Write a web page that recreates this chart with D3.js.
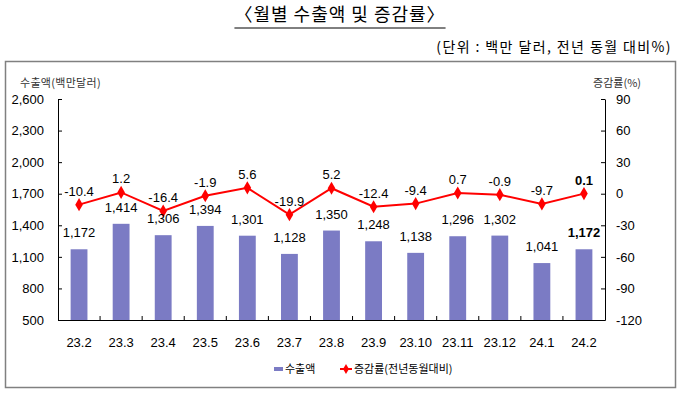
<!DOCTYPE html>
<html><head><meta charset="utf-8">
<script src="https://cdn.jsdelivr.net/npm/d3@7"></script>
<style>body{margin:0;background:#fff}svg{display:block}</style>
</head><body>
<svg id="c" width="680" height="394"></svg>
<script>
const categories = ["23.2","23.3","23.4","23.5","23.6","23.7","23.8","23.9","23.10","23.11","23.12","24.1","24.2"];
const exports = [1172,1414,1306,1394,1301,1128,1350,1248,1138,1296,1302,1041,1172];
const rates = [-10.4,1.2,-16.4,-1.9,5.6,-19.9,5.2,-12.4,-9.4,0.7,-0.9,-9.7,0.1];
const leftTicks = [500,800,1100,1400,1700,2000,2300,2600];
const rightTicks = [-120,-90,-60,-30,0,30,60,90];

const svg = d3.select("#c");
const KR = "'Noto Sans CJK KR', 'Noto Sans', sans-serif";
const NUM = "'Liberation Sans', Arial, sans-serif";
const L = 58, R = 605, T = 99, B = 320;
const hy = s => s.replace(/\u2212/g, "-");
const fmtComma = d => hy(d3.format(",")(d));
const fmtRate = d => hy(d3.format(".1f")(d));
const fmtInt = d => hy(d3.format("d")(d));

const x = d3.scaleBand().domain(categories).range([L, R]).paddingInner(0).paddingOuter(0);
const yL = d3.scaleLinear().domain([500, 2600]).range([B, T]);
const yR = d3.scaleLinear().domain([-120, 90]).range([B, T]);

// title
const title = svg.append("text").attr("x", 340).attr("y", 21).attr("text-anchor", "middle")
  .attr("font-family", KR).attr("font-size", 18).attr("letter-spacing", 1).attr("fill", "#000").text("〈월별 수출액 및 증감률〉");
const tb = title.node().getBBox();
svg.append("line").attr("x1", tb.x).attr("x2", tb.x + tb.width).attr("y1", 28).attr("y2", 28)
  .attr("stroke", "#000").attr("stroke-width", 1);
svg.append("text").attr("x", 672).attr("y", 52).attr("text-anchor", "end")
  .attr("font-family", KR).attr("font-size", 14).attr("letter-spacing", 1.4).attr("fill", "#000").text("(단위 : 백만 달러, 전년 동월 대비%)");

// frame
svg.append("rect").attr("x", 5.5).attr("y", 61.5).attr("width", 670).attr("height", 326)
  .attr("fill", "none").attr("stroke", "#808080").attr("stroke-width", 1.5);

// axis titles
svg.append("text").attr("x", 20).attr("y", 87).attr("font-family", KR).attr("font-size", 11)
  .attr("letter-spacing", 0.3).attr("fill", "#333").text("수출액(백만달러)");
svg.append("text").attr("x", 641).attr("y", 87).attr("text-anchor", "end").attr("font-family", KR)
  .attr("font-size", 11).attr("fill", "#333").text("증감률(%)");

// bars
svg.append("g").selectAll("rect").data(exports).join("rect")
  .attr("x", (d, i) => x(categories[i]) + x.bandwidth() * 0.3)
  .attr("width", x.bandwidth() * 0.4)
  .attr("y", d => yL(d)).attr("height", d => B - yL(d))
  .attr("fill", "#7b7bc4");

// axes
const axL = svg.append("g").attr("transform", `translate(${L},0)`)
  .call(d3.axisLeft(yL).tickValues(leftTicks).tickSizeInner(-4).tickSizeOuter(0).tickPadding(14)
    .tickFormat(fmtComma));
const axR = svg.append("g").attr("transform", `translate(${R},0)`)
  .call(d3.axisRight(yR).tickValues(rightTicks).tickSizeInner(-4).tickSizeOuter(0).tickPadding(11)
    .tickFormat(fmtInt));
const axB = svg.append("g").attr("transform", `translate(0,${B})`)
  .call(d3.axisBottom(x).tickSize(0).tickPadding(18));
[axL, axR, axB].forEach(g => {
  g.select(".domain").attr("stroke", "#000").attr("stroke-width", 1);
  g.selectAll(".tick line").attr("stroke", "#000");
  g.selectAll("text").attr("font-family", NUM).attr("font-size", 13).attr("fill", "#000");
});
// category separator ticks
svg.append("g").selectAll("line").data(categories.slice(1)).join("line")
  .attr("x1", d => x(d)).attr("x2", d => x(d)).attr("y1", B).attr("y2", B - 4)
  .attr("stroke", "#000");

// line
const cx = (i) => x(categories[i]) + x.bandwidth() / 2;
svg.append("path").datum(rates)
  .attr("d", d3.line().x((d, i) => cx(i)).y(d => yR(d)))
  .attr("fill", "none").attr("stroke", "#ff0000").attr("stroke-width", 2);
svg.append("g").selectAll("path").data(rates).join("path")
  .attr("transform", (d, i) => `translate(${cx(i)},${yR(d)})`)
  .attr("d", d3.symbol().type(d3.symbolDiamond).size(50))
  .attr("fill", "#ff0000");

// labels
const last = categories.length - 1;
svg.append("g").selectAll("text").data(exports).join("text")
  .attr("x", (d, i) => cx(i)).attr("y", d => yL(d) - 12)
  .attr("text-anchor", "middle").attr("font-family", NUM).attr("font-size", 13)
  .attr("font-weight", (d, i) => i === last ? "bold" : "normal")
  .attr("fill", "#000").text(d => fmtComma(d));
svg.append("g").selectAll("text").data(rates).join("text")
  .attr("x", (d, i) => cx(i)).attr("y", d => yR(d) - 9)
  .attr("text-anchor", "middle").attr("font-family", NUM).attr("font-size", 13)
  .attr("font-weight", (d, i) => i === last ? "bold" : "normal")
  .attr("fill", "#000").text(d => fmtRate(d));

// legend
const lg = svg.append("g");
lg.append("rect").attr("x", 274).attr("y", 367).attr("width", 9).attr("height", 4).attr("fill", "#7b7bc4");
lg.append("text").attr("x", 285).attr("y", 373).attr("font-family", KR).attr("font-size", 11).attr("fill", "#000").text("수출액");
lg.append("line").attr("x1", 340).attr("x2", 352).attr("y1", 369).attr("y2", 369).attr("stroke", "#ff0000").attr("stroke-width", 2);
lg.append("path").attr("transform", "translate(346,369)").attr("d", d3.symbol().type(d3.symbolDiamond).size(30)).attr("fill", "#ff0000");
lg.append("text").attr("x", 354).attr("y", 373).attr("font-family", KR).attr("font-size", 11).attr("fill", "#000").text("증감률(전년동월대비)");
</script>
</body></html>
